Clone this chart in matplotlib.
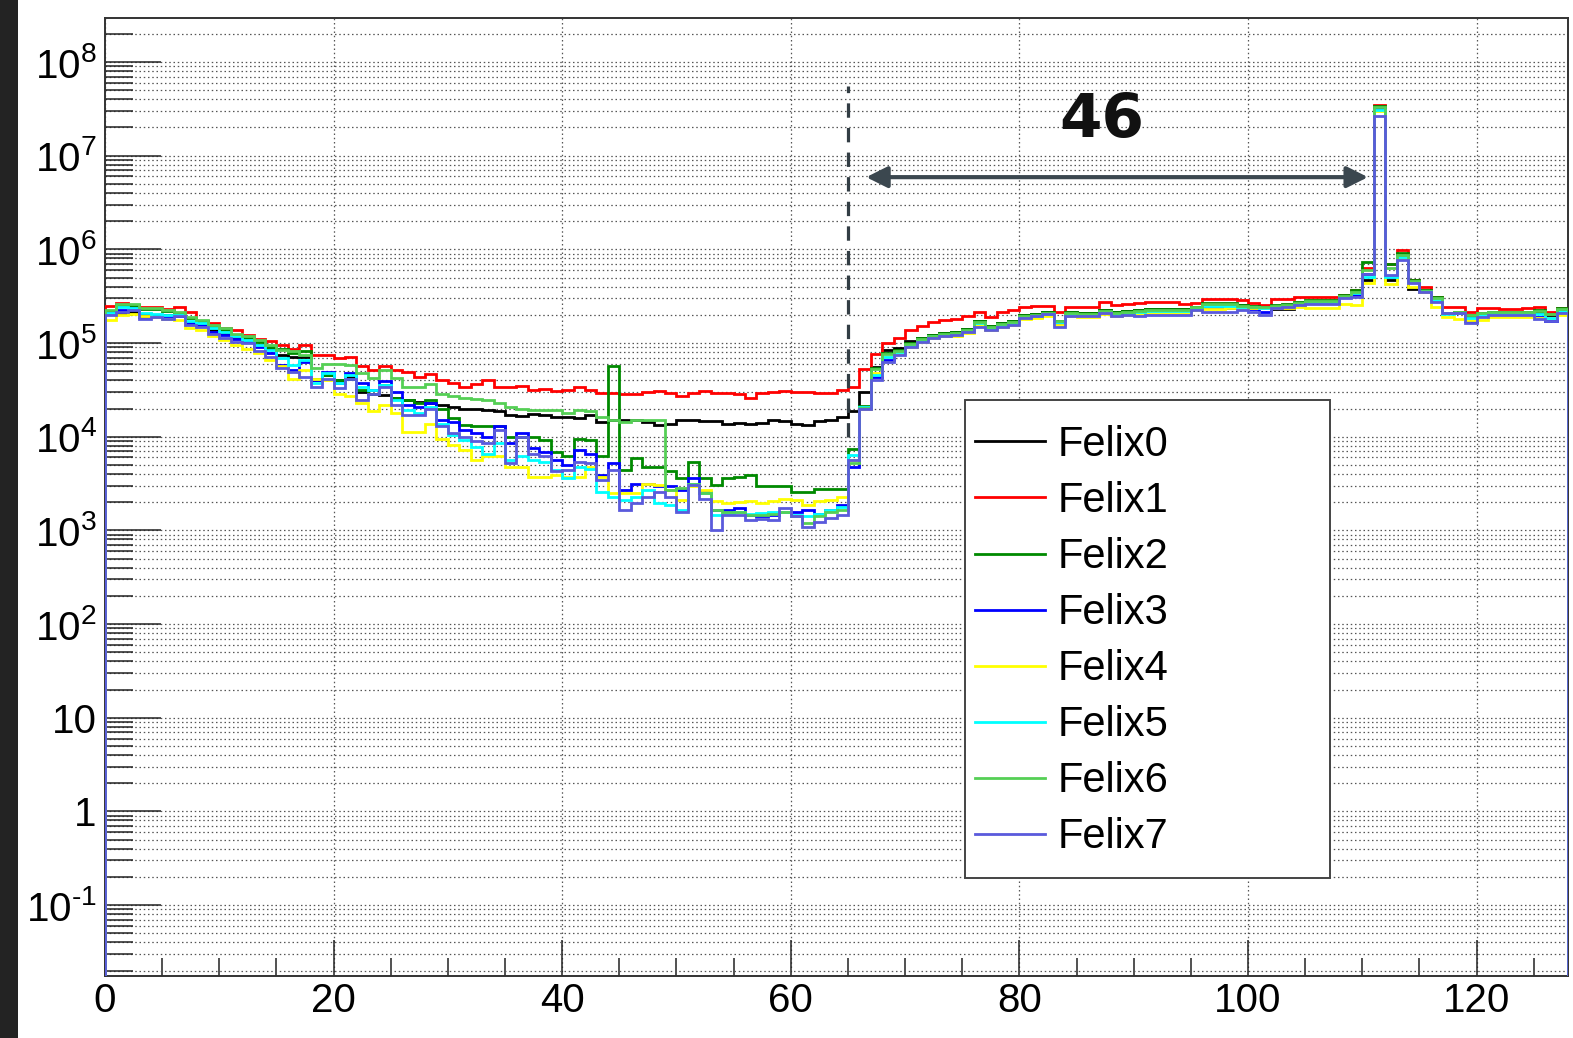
import numpy as np
import matplotlib
matplotlib.use("Agg")
import matplotlib.pyplot as plt
from matplotlib.patches import Rectangle
from matplotlib.ticker import FixedLocator, FixedFormatter, MultipleLocator, LogLocator, NullFormatter

plt.rcParams['font.family'] = ['Liberation Sans', 'DejaVu Sans']
plt.rcParams['mathtext.fontset'] = 'custom'
plt.rcParams['mathtext.rm'] = 'Liberation Sans'
plt.rcParams['mathtext.default'] = 'regular'

# ---------------- data (log10 of counts per unit-width bin, bins 0..127) ----------------
bin_edges = list(range(0, 129))

log10_felix0 = [
    5.31, 5.32, 5.33, 5.30, 5.30, 5.30, 5.29, 5.21, 5.20, 5.14,
    5.10, 5.06, 5.03, 4.98, 4.94, 4.87, 4.85, 4.85, 4.61, 4.66,
    4.61, 4.64, 4.48, 4.46, 4.44, 4.41, 4.39, 4.37, 4.36, 4.34,
    4.32, 4.30, 4.30, 4.29, 4.27, 4.23, 4.22, 4.24, 4.23, 4.21,
    4.21, 4.20, 4.23, 4.16, 4.18, 4.18, 4.18, 4.16, 4.13, 4.14,
    4.18, 4.18, 4.17, 4.17, 4.14, 4.15, 4.14, 4.15, 4.18, 4.17,
    4.14, 4.13, 4.17, 4.18, 4.21, 4.27, 4.48, 4.74, 4.93, 4.95,
    5.02, 5.05, 5.09, 5.11, 5.12, 5.15, 5.23, 5.18, 5.21, 5.23,
    5.30, 5.31, 5.33, 5.24, 5.33, 5.32, 5.32, 5.35, 5.33, 5.34,
    5.35, 5.36, 5.36, 5.36, 5.36, 5.39, 5.42, 5.42, 5.42, 5.41,
    5.39, 5.38, 5.36, 5.36, 5.43, 5.45, 5.45, 5.45, 5.49, 5.53,
    5.67, 7.50, 5.67, 5.93, 5.58, 5.55, 5.45, 5.32, 5.32, 5.29,
    5.31, 5.32, 5.32, 5.32, 5.32, 5.33, 5.30, 5.35]

log10_felix1 = [
    5.40, 5.43, 5.41, 5.39, 5.39, 5.36, 5.39, 5.33, 5.24, 5.21,
    5.16, 5.14, 5.09, 5.04, 5.02, 4.98, 4.94, 4.98, 4.87, 4.87,
    4.84, 4.85, 4.75, 4.71, 4.75, 4.71, 4.69, 4.64, 4.67, 4.61,
    4.57, 4.53, 4.56, 4.61, 4.53, 4.53, 4.54, 4.50, 4.51, 4.49,
    4.50, 4.53, 4.50, 4.47, 4.47, 4.46, 4.46, 4.48, 4.49, 4.47,
    4.43, 4.47, 4.49, 4.47, 4.47, 4.46, 4.41, 4.47, 4.48, 4.49,
    4.48, 4.48, 4.47, 4.47, 4.50, 4.53, 4.72, 4.88, 5.00, 5.05,
    5.14, 5.18, 5.22, 5.25, 5.26, 5.29, 5.33, 5.28, 5.33, 5.35,
    5.39, 5.40, 5.40, 5.33, 5.39, 5.39, 5.39, 5.44, 5.41, 5.42,
    5.43, 5.44, 5.44, 5.44, 5.42, 5.43, 5.47, 5.47, 5.47, 5.46,
    5.43, 5.41, 5.47, 5.47, 5.49, 5.49, 5.49, 5.49, 5.51, 5.57,
    5.80, 7.54, 5.84, 5.99, 5.67, 5.60, 5.49, 5.39, 5.39, 5.33,
    5.37, 5.37, 5.36, 5.36, 5.37, 5.38, 5.33, 5.37]

log10_felix2 = [
    5.34, 5.41, 5.40, 5.36, 5.36, 5.34, 5.31, 5.27, 5.24, 5.17,
    5.14, 5.08, 5.05, 5.01, 4.96, 4.94, 4.89, 4.91, 4.62, 4.66,
    4.61, 4.62, 4.50, 4.46, 4.55, 4.41, 4.39, 4.36, 4.39, 4.30,
    4.20, 4.12, 4.11, 4.11, 4.11, 4.00, 4.00, 4.00, 3.97, 3.84,
    3.79, 3.98, 3.97, 3.79, 4.75, 3.64, 3.77, 3.68, 3.68, 3.63,
    3.56, 3.73, 3.56, 3.48, 3.56, 3.57, 3.59, 3.47, 3.47, 3.47,
    3.41, 3.41, 3.44, 3.44, 3.44, 3.87, 4.33, 4.73, 4.89, 4.93,
    5.00, 5.05, 5.09, 5.11, 5.12, 5.15, 5.23, 5.18, 5.21, 5.23,
    5.30, 5.31, 5.33, 5.24, 5.33, 5.32, 5.32, 5.35, 5.33, 5.34,
    5.35, 5.36, 5.36, 5.36, 5.36, 5.39, 5.43, 5.43, 5.43, 5.41,
    5.40, 5.39, 5.41, 5.42, 5.44, 5.46, 5.46, 5.46, 5.51, 5.57,
    5.87, 7.53, 5.84, 5.96, 5.67, 5.57, 5.49, 5.32, 5.33, 5.30,
    5.32, 5.33, 5.33, 5.33, 5.33, 5.35, 5.31, 5.37]

log10_felix3 = [
    5.32, 5.35, 5.37, 5.28, 5.30, 5.29, 5.29, 5.21, 5.19, 5.12,
    5.09, 5.04, 5.01, 4.96, 4.89, 4.77, 4.71, 4.80, 4.61, 4.69,
    4.57, 4.68, 4.57, 4.50, 4.59, 4.48, 4.34, 4.32, 4.36, 4.18,
    4.16, 4.07, 4.04, 4.00, 4.11, 3.93, 4.04, 3.88, 3.84, 3.75,
    3.70, 3.86, 3.82, 3.59, 3.72, 3.43, 3.50, 3.50, 3.47, 3.47,
    3.43, 3.56, 3.41, 3.22, 3.22, 3.24, 3.16, 3.15, 3.16, 3.20,
    3.20, 3.22, 3.18, 3.22, 3.27, 3.68, 4.30, 4.64, 4.82, 4.89,
    4.97, 5.02, 5.06, 5.08, 5.09, 5.12, 5.20, 5.15, 5.18, 5.20,
    5.27, 5.28, 5.30, 5.20, 5.30, 5.29, 5.29, 5.32, 5.30, 5.31,
    5.32, 5.33, 5.33, 5.33, 5.33, 5.36, 5.37, 5.37, 5.37, 5.37,
    5.36, 5.33, 5.38, 5.40, 5.42, 5.43, 5.43, 5.43, 5.49, 5.51,
    5.74, 7.50, 5.71, 5.91, 5.65, 5.56, 5.45, 5.32, 5.32, 5.23,
    5.29, 5.31, 5.31, 5.31, 5.31, 5.28, 5.24, 5.33]

log10_felix4 = [
    5.25, 5.30, 5.31, 5.29, 5.28, 5.26, 5.25, 5.16, 5.14, 5.07,
    5.03, 4.98, 4.94, 4.89, 4.82, 4.75, 4.62, 4.71, 4.62, 4.61,
    4.46, 4.43, 4.36, 4.27, 4.34, 4.25, 4.05, 4.05, 4.14, 3.98,
    3.91, 3.86, 3.75, 3.79, 3.79, 3.68, 3.68, 3.57, 3.57, 3.59,
    3.57, 3.57, 3.68, 3.57, 3.40, 3.40, 3.40, 3.50, 3.48, 3.43,
    3.32, 3.47, 3.43, 3.31, 3.29, 3.30, 3.31, 3.29, 3.31, 3.34,
    3.32, 3.27, 3.31, 3.32, 3.36, 3.75, 4.30, 4.68, 4.85, 4.89,
    4.96, 5.01, 5.05, 5.07, 5.08, 5.11, 5.19, 5.14, 5.17, 5.19,
    5.26, 5.27, 5.29, 5.19, 5.29, 5.28, 5.28, 5.31, 5.29, 5.30,
    5.31, 5.32, 5.32, 5.32, 5.32, 5.35, 5.36, 5.36, 5.37, 5.36,
    5.37, 5.37, 5.37, 5.37, 5.38, 5.37, 5.37, 5.37, 5.42, 5.41,
    5.64, 7.48, 5.63, 5.90, 5.60, 5.55, 5.39, 5.28, 5.26, 5.25,
    5.25, 5.28, 5.28, 5.28, 5.28, 5.27, 5.27, 5.30]

log10_felix5 = [
    5.32, 5.39, 5.37, 5.32, 5.31, 5.30, 5.30, 5.23, 5.21, 5.16,
    5.12, 5.07, 5.03, 4.98, 4.93, 4.84, 4.77, 4.82, 4.57, 4.68,
    4.57, 4.66, 4.53, 4.50, 4.55, 4.39, 4.28, 4.25, 4.32, 4.14,
    4.02, 3.97, 3.89, 3.82, 3.93, 3.75, 3.79, 3.75, 3.73, 3.64,
    3.56, 3.68, 3.66, 3.41, 3.36, 3.32, 3.36, 3.43, 3.29, 3.27,
    3.22, 3.50, 3.40, 3.16, 3.18, 3.20, 3.18, 3.19, 3.20, 3.20,
    3.16, 3.15, 3.18, 3.22, 3.25, 3.80, 4.32, 4.66, 4.85, 4.90,
    4.98, 5.03, 5.07, 5.09, 5.10, 5.13, 5.21, 5.16, 5.19, 5.21,
    5.28, 5.29, 5.31, 5.22, 5.31, 5.30, 5.30, 5.33, 5.31, 5.32,
    5.33, 5.34, 5.34, 5.34, 5.34, 5.37, 5.40, 5.40, 5.40, 5.39,
    5.38, 5.37, 5.39, 5.40, 5.42, 5.44, 5.44, 5.44, 5.49, 5.53,
    5.71, 7.49, 5.71, 5.92, 5.65, 5.56, 5.46, 5.31, 5.32, 5.27,
    5.30, 5.31, 5.31, 5.31, 5.31, 5.31, 5.27, 5.34]

log10_felix6 = [
    5.35, 5.42, 5.42, 5.37, 5.37, 5.35, 5.33, 5.28, 5.25, 5.19,
    5.16, 5.10, 5.07, 5.03, 4.98, 4.93, 4.91, 4.87, 4.73, 4.78,
    4.78, 4.77, 4.68, 4.63, 4.71, 4.63, 4.53, 4.53, 4.56, 4.46,
    4.43, 4.41, 4.40, 4.39, 4.36, 4.32, 4.30, 4.29, 4.28, 4.28,
    4.25, 4.28, 4.27, 4.21, 4.18, 4.16, 4.18, 4.18, 4.18, 3.43,
    3.45, 3.50, 3.40, 3.22, 3.20, 3.20, 3.16, 3.16, 3.18, 3.20,
    3.15, 3.08, 3.15, 3.20, 3.22, 3.72, 4.31, 4.72, 4.88, 4.92,
    4.99, 5.04, 5.08, 5.10, 5.11, 5.14, 5.22, 5.17, 5.20, 5.22,
    5.29, 5.30, 5.32, 5.23, 5.32, 5.31, 5.31, 5.34, 5.32, 5.33,
    5.34, 5.35, 5.35, 5.35, 5.35, 5.38, 5.42, 5.42, 5.42, 5.40,
    5.39, 5.38, 5.40, 5.41, 5.43, 5.45, 5.45, 5.45, 5.50, 5.55,
    5.78, 7.52, 5.80, 5.94, 5.66, 5.56, 5.48, 5.32, 5.33, 5.30,
    5.32, 5.33, 5.33, 5.33, 5.33, 5.34, 5.31, 5.36]

log10_felix7 = [
    5.30, 5.33, 5.35, 5.26, 5.28, 5.26, 5.29, 5.19, 5.17, 5.10,
    5.05, 5.01, 5.00, 4.91, 4.85, 4.73, 4.69, 4.64, 4.53, 4.62,
    4.52, 4.62, 4.39, 4.46, 4.53, 4.34, 4.23, 4.23, 4.30, 4.11,
    4.04, 4.00, 3.95, 3.93, 4.07, 3.72, 4.00, 3.82, 3.79, 3.63,
    3.64, 3.73, 3.72, 3.54, 3.64, 3.22, 3.29, 3.36, 3.41, 3.36,
    3.20, 3.48, 3.34, 3.00, 3.16, 3.16, 3.11, 3.12, 3.11, 3.24,
    3.15, 3.04, 3.09, 3.13, 3.16, 3.75, 4.30, 4.61, 4.80, 4.87,
    4.96, 5.01, 5.05, 5.08, 5.09, 5.12, 5.17, 5.14, 5.17, 5.19,
    5.27, 5.29, 5.31, 5.17, 5.29, 5.29, 5.29, 5.32, 5.29, 5.30,
    5.29, 5.30, 5.30, 5.30, 5.30, 5.35, 5.33, 5.33, 5.33, 5.35,
    5.33, 5.30, 5.37, 5.39, 5.41, 5.42, 5.42, 5.42, 5.48, 5.49,
    5.74, 7.42, 5.73, 5.89, 5.64, 5.55, 5.44, 5.32, 5.32, 5.21,
    5.28, 5.30, 5.30, 5.30, 5.30, 5.26, 5.23, 5.32]

series_names = ["Felix0", "Felix1", "Felix2", "Felix3", "Felix4", "Felix5", "Felix6", "Felix7"]
series_logs = [log10_felix0, log10_felix1, log10_felix2, log10_felix3,
               log10_felix4, log10_felix5, log10_felix6, log10_felix7]
series_colors = ["#000000", "#ff0000", "#008a00", "#0000ff",
                 "#ffff00", "#00ffff", "#55cf55", "#5a5adc"]

xtick_values = [0, 20, 40, 60, 80, 100, 120]
xtick_labels = ["0", "20", "40", "60", "80", "100", "120"]
ytick_values = [1e-1, 1, 10, 1e2, 1e3, 1e4, 1e5, 1e6, 1e7, 1e8]
ytick_labels = ["$10^{\u20101}$", "1", "10", "$10^{2}$", "$10^{3}$", "$10^{4}$",
                "$10^{5}$", "$10^{6}$", "$10^{7}$", "$10^{8}$"]

marker_x = 65           # dashed vertical line
marker_y = (1e4, 5.6e7)
gap_arrow_x = (66.6, 110.5)
gap_arrow_y = 5.9e6
gap_label = "46"
gap_label_pos = (87.2, 2.35e7)

x_range = (0, 128)
y_range = (0.0175, 2.95e8)

# ---------------- figure ----------------
W, H = 1573, 1038
fig = plt.figure(figsize=(W / 100, H / 100), dpi=100)
fig.patch.set_facecolor("white")
fig.patches.append(Rectangle((0, 0), 18 / W, 1, transform=fig.transFigure,
                             facecolor="#232323", edgecolor="none", zorder=0))

ax_l, ax_r, ax_t, ax_b = 105, 1568, 18, 976
ax = fig.add_axes([ax_l / W, 1 - ax_b / H, (ax_r - ax_l) / W, (ax_b - ax_t) / H])
ax.set_yscale("log")
ax.set_xlim(*x_range)
ax.set_ylim(*y_range)

handles = []
for name, logs, col in zip(series_names, series_logs, series_colors):
    vals = np.power(10.0, np.array(logs))
    h = ax.stairs(vals, bin_edges, baseline=1e-4, fill=False, color=col,
                  linewidth=2.0, label=name, zorder=3)
    handles.append(h)

# grid
grid_style = dict(color="#555555", linewidth=0.9, linestyle=(0, (1.2, 2.2)))
ax.grid(True, which="major", axis="x", **grid_style)
ax.grid(True, which="both", axis="y", **grid_style)
ax.set_axisbelow(True)

# ticks
ax.xaxis.set_major_locator(FixedLocator(xtick_values))
ax.xaxis.set_major_formatter(FixedFormatter(xtick_labels))
ax.xaxis.set_minor_locator(MultipleLocator(5))
ax.yaxis.set_major_locator(FixedLocator(ytick_values))
ax.yaxis.set_major_formatter(FixedFormatter(ytick_labels))
ax.yaxis.set_minor_locator(LogLocator(base=10, subs=np.arange(2, 10), numticks=40))
ax.yaxis.set_minor_formatter(NullFormatter())
ax.tick_params(axis="x", which="major", direction="in", length=26, width=1.1,
               labelsize=29, pad=4, color="#222222")
ax.tick_params(axis="x", which="minor", direction="in", length=13, width=1.1, color="#222222")
ax.tick_params(axis="y", which="major", direction="in", length=40, width=1.1,
               labelsize=29, pad=6, color="#222222")
ax.tick_params(axis="y", which="minor", direction="in", length=20, width=1.1, color="#222222")
for s in ax.spines.values():
    s.set_color("#333333")
    s.set_linewidth(1.4)

# annotations
ax.plot([marker_x, marker_x], list(marker_y), color="#323d44", linewidth=2.3,
        linestyle=(0, (4.5, 3.2)), zorder=4)
ax.annotate("", xy=(gap_arrow_x[0], gap_arrow_y), xytext=(gap_arrow_x[1], gap_arrow_y),
            arrowprops=dict(arrowstyle="<|-|>", color="#3b474f", lw=3,
                            mutation_scale=32, shrinkA=0, shrinkB=0), zorder=4)
ax.text(gap_label_pos[0], gap_label_pos[1], gap_label, ha="center", va="center",
        fontsize=44, fontweight="bold",
        family=["Liberation Sans Narrow", "DejaVu Sans"], color="#111111", zorder=4)

# legend box
bx0 = (965 - ax_l) / (ax_r - ax_l)
bx1 = (1330 - ax_l) / (ax_r - ax_l)
by0 = (ax_b - 878) / (ax_b - ax_t)
by1 = (ax_b - 400) / (ax_b - ax_t)
ax.add_patch(Rectangle((bx0, by0), bx1 - bx0, by1 - by0, transform=ax.transAxes,
                       facecolor="white", edgecolor="#444444", linewidth=1.4, zorder=5))
leg = ax.legend(handles=handles, loc="upper left",
                bbox_to_anchor=((975 - ax_l) / (ax_r - ax_l), (ax_b - 425) / (ax_b - ax_t)),
                frameon=False, fontsize=30, borderpad=0, borderaxespad=0,
                handlelength=1.68, handletextpad=0.3, labelspacing=0.385)
leg.set_zorder(6)
for line in leg.get_lines():
    line.set_linewidth(2.0)

fig.savefig("out.png", dpi=100)
